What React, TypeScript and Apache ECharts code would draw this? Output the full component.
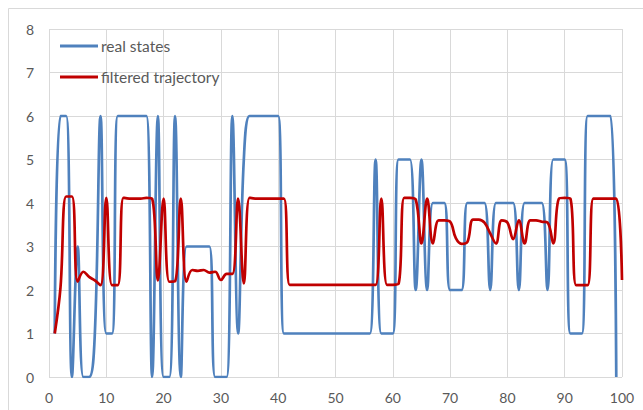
import React, { useEffect, useRef } from "react";
import * as echarts from "echarts";

const xTicks = [0, 10, 20, 30, 40, 50, 60, 70, 80, 90, 100];
const yTicks = [0, 1, 2, 3, 4, 5, 6, 7, 8];

const seriesNames = ["real states", "filtered trajectory"];

// real states, x = 1..99
const realStates = [
  1, 6, 6, 0, 3, 0, 0, 1, 6, 1,
  1, 6, 6, 6, 6, 6, 6, 0, 6, 0,
  0, 6, 0, 3, 3, 3, 3, 3, 0, 0,
  0, 6, 1, 5, 6, 6, 6, 6, 6, 6,
  1, 1, 1, 1, 1, 1, 1, 1, 1, 1,
  1, 1, 1, 1, 1, 1, 5, 1, 1, 1,
  5, 5, 5, 2, 5, 2, 4, 4, 4, 2,
  2, 2, 4, 4, 4, 4, 2, 4, 4, 4,
  4, 2, 4, 4, 4, 4, 2, 5, 5, 5,
  1, 1, 1, 6, 6, 6, 6, 6, 0,
];

// filtered trajectory, x = 1..100
const filtered = [
  1.0, 2.05, 4.15, 4.15, 2.19, 2.42, 2.3, 2.22, 2.11, 4.12,
  2.11, 2.11, 4.12, 4.1, 4.1, 4.1, 4.12, 4.1, 2.22, 4.1,
  2.19, 2.2, 4.1, 2.19, 2.46, 2.44, 2.46, 2.4, 2.42, 2.23,
  2.37, 2.37, 4.1, 2.15, 4.12, 4.1, 4.1, 4.1, 4.1, 4.1,
  4.1, 2.12, 2.12, 2.12, 2.12, 2.12, 2.12, 2.12, 2.12, 2.12,
  2.12, 2.12, 2.12, 2.12, 2.12, 2.12, 2.12, 4.1, 2.12, 2.12,
  2.14, 4.12, 4.12, 4.08, 3.07, 4.1, 3.07, 3.6, 3.6, 3.57,
  3.19, 3.06, 3.1, 3.62, 3.62, 3.55, 3.3, 3.07, 3.6, 3.55,
  3.17, 3.6, 3.07, 3.6, 3.6, 3.57, 3.55, 3.07, 4.1, 4.12,
  4.1, 2.11, 2.11, 2.11, 4.1, 4.1, 4.1, 4.1, 4.1, 2.23,
];

const colors = ["#4f81bd", "#c00000"];

export default function App() {
  const ref = useRef<HTMLDivElement>(null);
  useEffect(() => {
    if (!ref.current) return;
    const chart = echarts.init(ref.current, undefined, { renderer: "svg" });
    const font = "Lato, 'Open Sans', sans-serif";
    chart.setOption({
      animation: false,
      backgroundColor: "#ffffff",
      textStyle: { fontFamily: font },
      graphic: [
        {
          type: "rect",
          shape: { x: 8.5, y: 8.5, width: 660, height: 420 },
          style: { fill: "none", stroke: "#d9d9d9", lineWidth: 1 },
          silent: true,
        },
      ],
      grid: { left: 49, right: 21, top: 29, bottom: 33, containLabel: false },
      legend: {
        orient: "vertical",
        left: 55,
        top: 33,
        icon: "rect",
        itemWidth: 38,
        itemHeight: 3,
        itemGap: 15,
        data: seriesNames,
        textStyle: { fontSize: 15.5, color: "#595959", fontFamily: font, padding: [0, 0, 0, -2] },
      },
      xAxis: {
        type: "value",
        min: xTicks[0],
        max: xTicks[xTicks.length - 1],
        interval: 10,
        axisLine: { show: false },
        axisTick: { show: false },
        axisLabel: { fontSize: 14, color: "#595959", margin: 13, fontFamily: font },
        splitLine: { show: true, lineStyle: { color: "#d9d9d9", width: 1 } },
      },
      yAxis: {
        type: "value",
        min: yTicks[0],
        max: yTicks[yTicks.length - 1],
        interval: 1,
        axisLine: { show: false },
        axisTick: { show: false },
        axisLabel: { fontSize: 14, color: "#595959", margin: 15, fontFamily: font },
        splitLine: { show: true, lineStyle: { color: "#d9d9d9", width: 1 } },
      },
      series: [
        {
          name: seriesNames[0],
          type: "line",
          data: realStates.map((v, i) => [i + 1, v]),
          smooth: 0.4,
          symbol: "none",
          lineStyle: { color: colors[0], width: 2.7 },
          itemStyle: { color: colors[0] },
          z: 2,
        },
        {
          name: seriesNames[1],
          type: "line",
          data: filtered.map((v, i) => [i + 1, v]),
          smooth: 0.4,
          symbol: "none",
          lineStyle: { color: colors[1], width: 2.7 },
          itemStyle: { color: colors[1] },
          z: 3,
        },
      ],
    });
    return () => chart.dispose();
  }, []);
  return (
    <div
      ref={ref}
      style={{ position: "fixed", left: 0, top: 0, width: 643, height: 410 }}
    />
  );
}
